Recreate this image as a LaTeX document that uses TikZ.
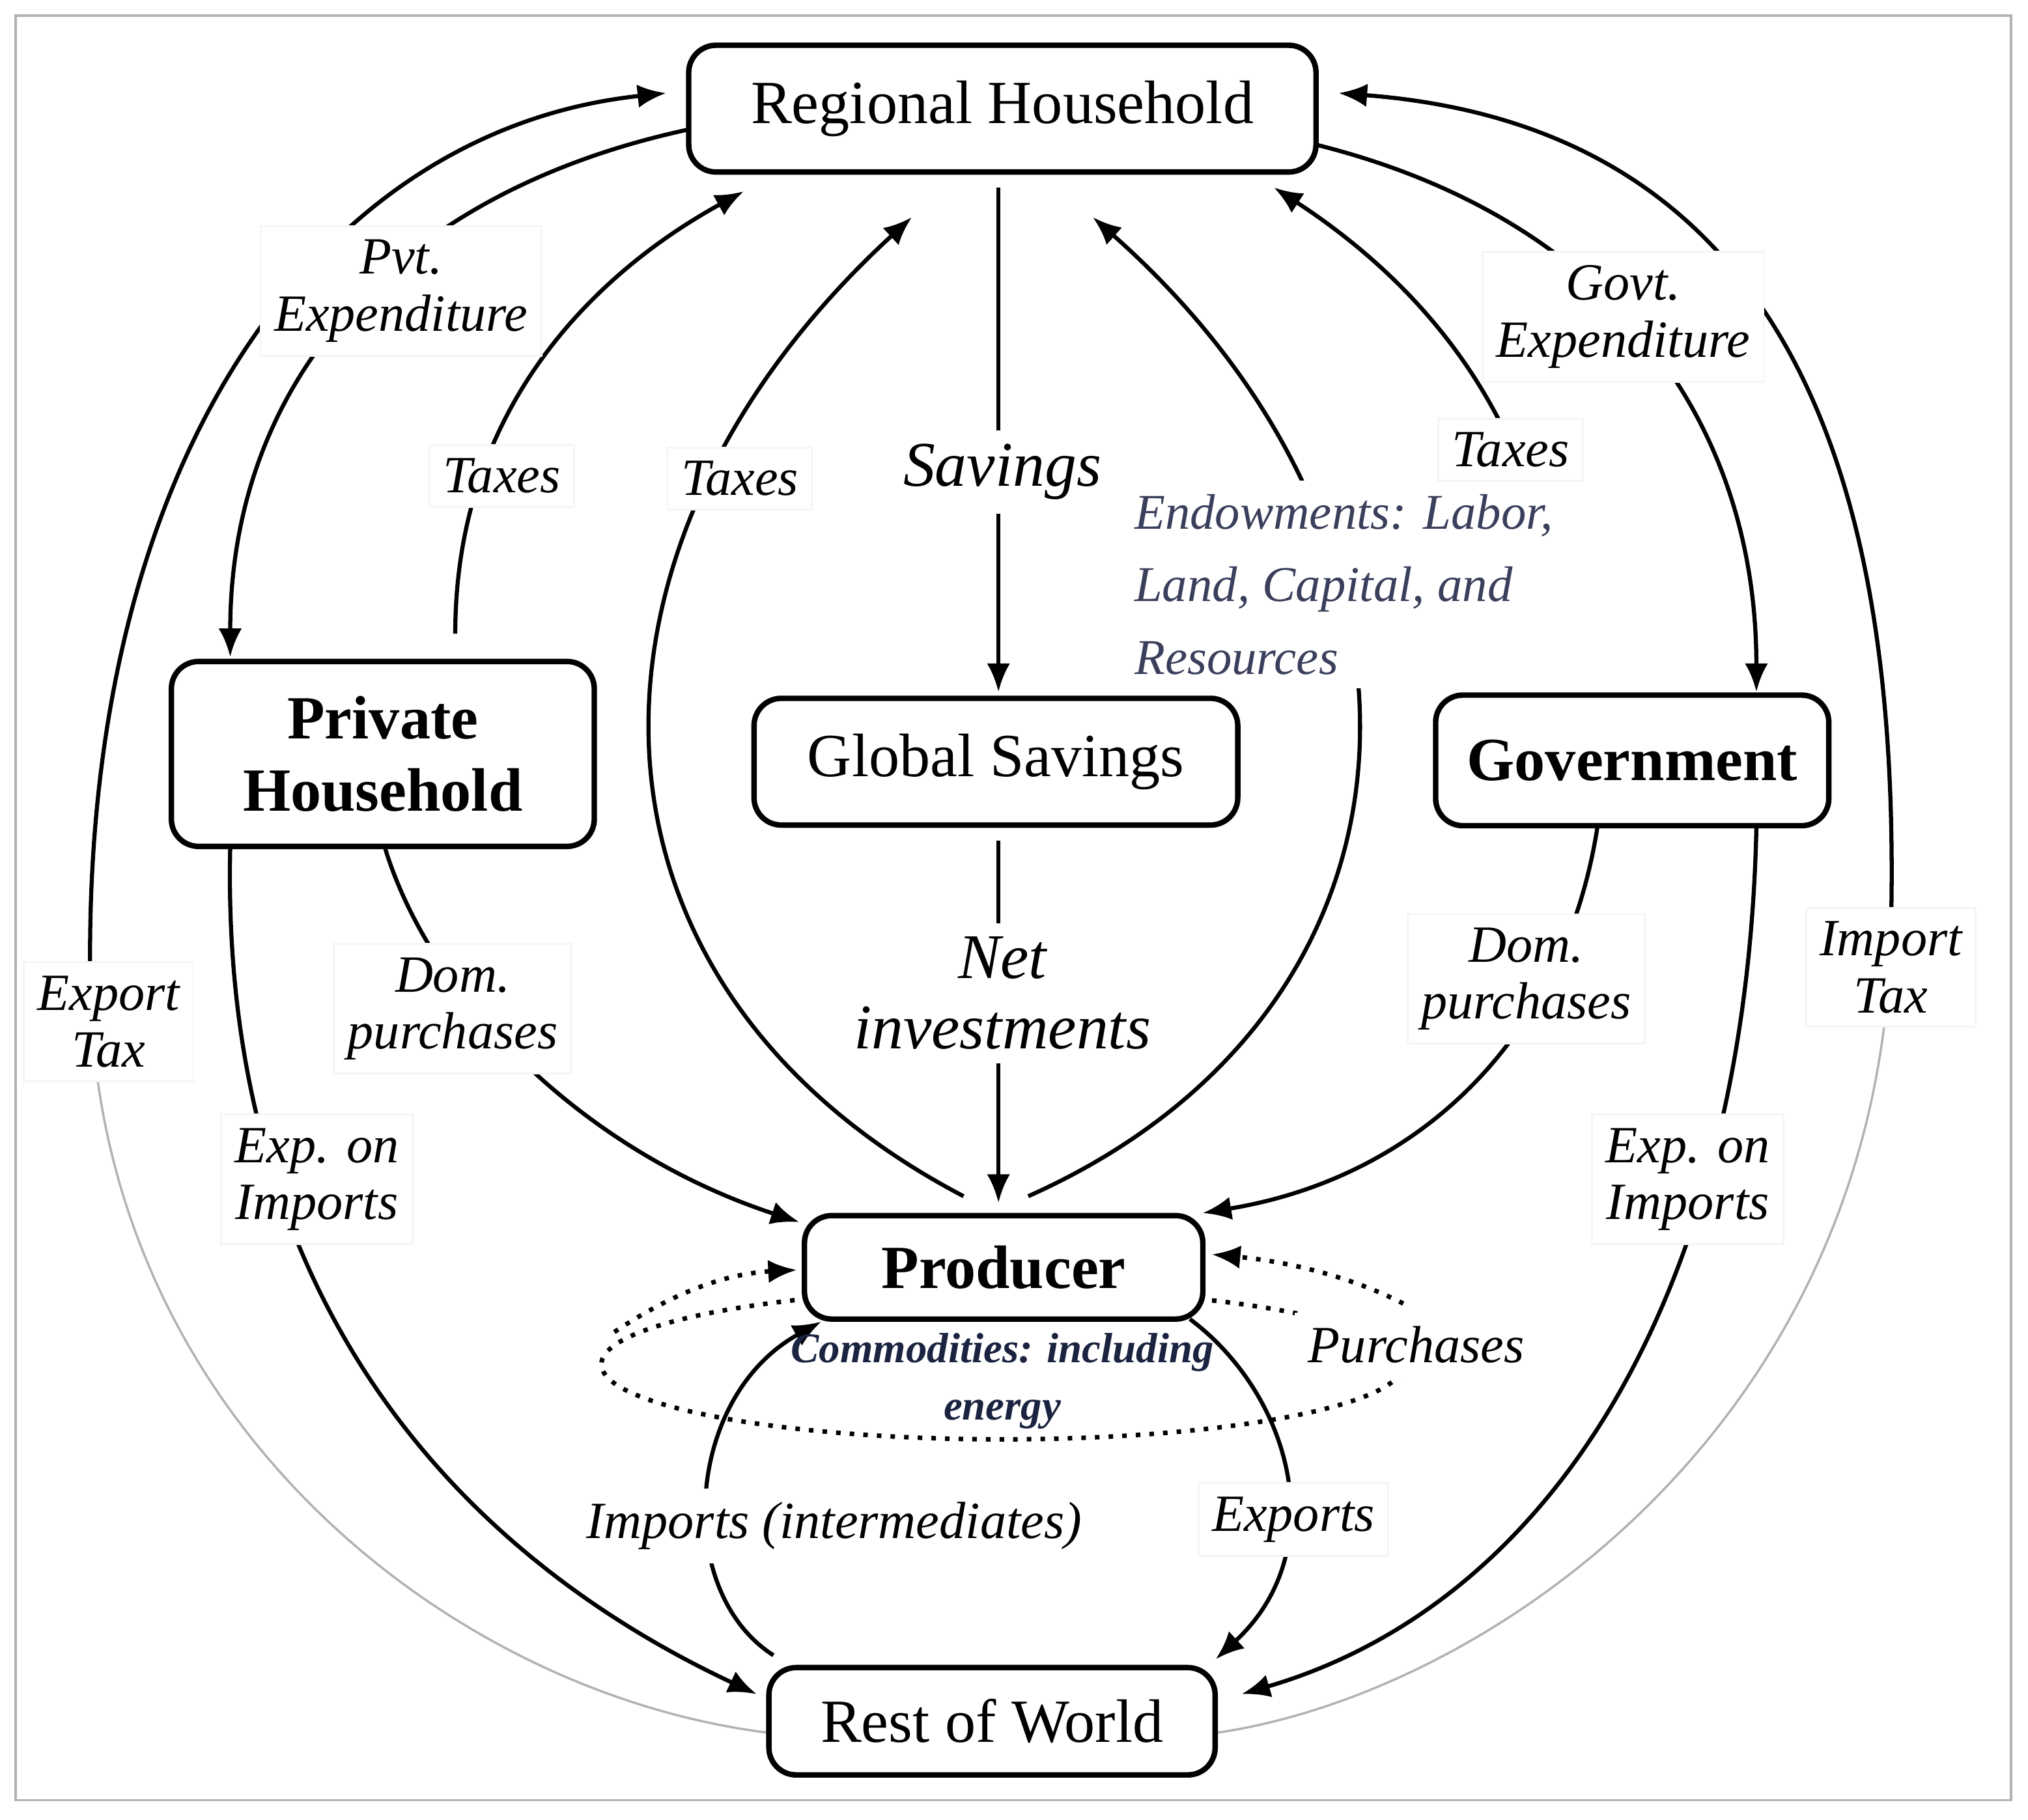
\documentclass[tikz,border=0pt]{standalone}
\usepackage{fontspec}
\setmainfont{Liberation Serif}
\usetikzlibrary{arrows.meta}
\definecolor{navy}{HTML}{1A2340}
\definecolor{slate}{HTML}{3A3F5C}
\begin{document}
\begin{tikzpicture}[x=0.1mm,y=-0.1mm,
  box/.style={draw,line width=1.2pt,rounded corners=6pt,fill=white,align=center,inner sep=0pt},
  lbl/.style={fill=white,draw=gray!8,font=\fontsize{11.5}{12.5}\selectfont\itshape,align=center,inner sep=3pt},
  con/.style={line width=0.9pt},
  arr/.style={con,-{Latex[length=2.2mm,width=1.8mm]}},
  faint/.style={gray!60,line width=0.5pt}]
\useasboundingbox (0,0) rectangle (1568,1407);
\draw[gray!60,line width=0.5pt] (12,12) rectangle (1555,1392);
\coordinate (pL) at (70,770);
\coordinate (pR) at (1462,720);
% connectors
\draw[arr] (533,100) .. controls (300,150) and (178,300) .. (178,508);
\draw[arr] (352,490) .. controls (352,300) and (480,200) .. (575,148);
\draw[arr] (745,925) .. controls (430,760) and (430,420) .. (705,168);
\draw[arr] (772,145) -- (772,535);
\draw[arr] (795,925) .. controls (1120,780) and (1130,420) .. (845,168);
\draw[arr] (1205,510) .. controls (1200,330) and (1100,220) .. (985,145);
\draw[arr] (1018,112) .. controls (1250,170) and (1358,330) .. (1358,535);
\draw[arr] (pR) .. controls (1470,400) and (1400,100) .. (1035,72);
\draw[faint] (pR) .. controls (1455,1100) and (1150,1310) .. (940,1340);
\draw[arr] (pL) .. controls (60,350) and (250,100) .. (515,72);
\draw[faint] (pL) .. controls (80,1100) and (350,1310) .. (595,1340);
\draw[arr] (178,655) .. controls (170,1000) and (350,1200) .. (585,1310);
\draw[arr] (296,650) .. controls (330,770) and (450,890) .. (618,945);
\draw[arr] (772,650) -- (772,930);
\draw[arr] (1235,640) .. controls (1210,800) and (1100,910) .. (930,938);
\draw[arr] (1358,640) .. controls (1350,1000) and (1200,1240) .. (960,1310);
\draw[arr] (598,1280) .. controls (520,1230) and (530,1080) .. (635,1022);
\draw[arr] (920,1020) .. controls (1000,1080) and (1030,1200) .. (940,1283);
% dotted purchases loop
\draw[dotted,line width=1pt] (775,1055) ellipse [x radius=31mm, y radius=5.8mm];
\draw[dotted,line width=1pt,-{Latex[length=2.2mm,width=1.8mm]}] (475,1030) .. controls (520,1000) and (560,985) .. (616,982);
\draw[dotted,line width=1pt,-{Latex[length=2.2mm,width=1.8mm]}] (1085,1008) .. controls (1040,985) and (990,975) .. (937,970);
% boxes
\node[box,minimum width=48.5mm,minimum height=9.8mm,font=\fontsize{13.5}{15}\selectfont] (rh) at (775,84) {Regional Household};
\node[box,minimum width=32.7mm,minimum height=14.3mm,font=\fontsize{13.5}{16}\selectfont\bfseries] (ph) at (296,583) {Private\\Household};
\node[box,minimum width=37.4mm,minimum height=9.8mm,font=\fontsize{13.5}{15}\selectfont] (gs) at (770,589) {Global Savings};
\node[box,minimum width=30.4mm,minimum height=10.1mm,font=\fontsize{13.5}{15}\selectfont\bfseries] (gov) at (1262,588) {Government};
\node[box,minimum width=30.8mm,minimum height=8mm,font=\fontsize{13.5}{15}\selectfont\bfseries] (prod) at (776,980) {Producer};
\node[box,minimum width=34.5mm,minimum height=8.3mm,font=\fontsize{13.5}{15}\selectfont] (row) at (767,1331) {Rest of World};
% labels
\node[lbl] (l1) at (310,225) {Pvt.\\Expenditure};
\node[lbl] (l2) at (388,368) {Taxes};
\node[lbl] (l3) at (572,370) {Taxes};
\node[lbl,font=\fontsize{14}{15}\selectfont\itshape,draw=none] (l4) at (775,365) {Savings};
\node[lbl,draw=none,align=left,text=slate,font=\fontsize{11}{16}\selectfont\itshape,anchor=west] (l5) at (866,452) {Endowments: Labor,\\Land, Capital, and\\Resources};
\node[lbl] (l6) at (1168,348) {Taxes};
\node[lbl] (l7) at (1255,245) {Govt.\\Expenditure};
\node[lbl] (l8) at (1462,748) {Import\\Tax};
\node[lbl] (l9) at (84,790) {Export\\Tax};
\node[lbl] (l10) at (245,912) {Exp. on\\Imports};
\node[lbl] (l11) at (350,780) {Dom.\\purchases};
\node[lbl,draw=none,font=\fontsize{14}{15.5}\selectfont\itshape] (l12) at (775,768) {Net\\investments};
\node[lbl] (l13) at (1180,757) {Dom.\\purchases};
\node[lbl] (l14) at (1305,912) {Exp. on\\Imports};
\node[lbl,draw=none] (l15) at (645,1180) {Imports (intermediates)};
\node[lbl] (l16) at (1000,1175) {Exports};
\node[lbl,draw=none] (l17) at (1095,1040) {Purchases};
\node[text=navy,font=\fontsize{9.3}{12.5}\selectfont\bfseries\itshape,align=center] (l18) at (775,1068) {Commodities: including\\energy};
\end{tikzpicture}
\end{document}
